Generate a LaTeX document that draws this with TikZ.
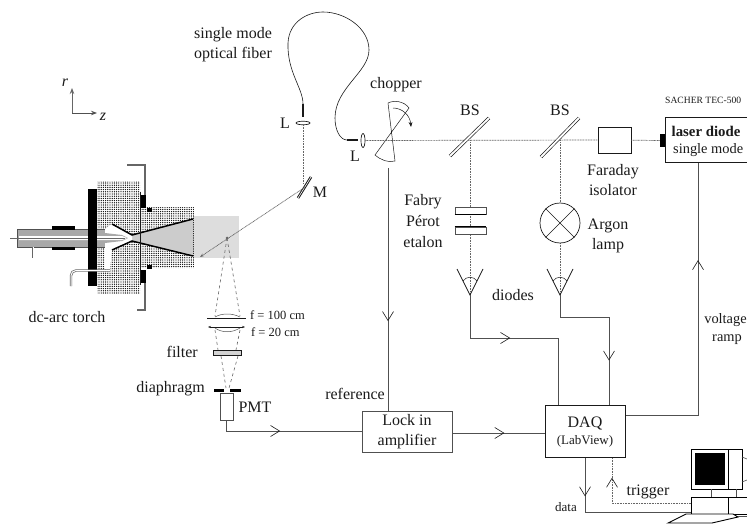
\documentclass[tikz,border=0pt]{standalone}
\usepackage{fontspec}
\setmainfont{Liberation Serif}
\usepackage{tikz}
\usetikzlibrary{arrows.meta,decorations.markings,shapes.geometric,patterns.meta}
\definecolor{cInk}{HTML}{1A1A1A}
\definecolor{cWire}{HTML}{505050}
\definecolor{cBeam}{HTML}{666666}
\definecolor{cDither}{HTML}{A8A8A8}
\definecolor{cPlume}{HTML}{DDDDDD}
\definecolor{cCone}{HTML}{CCCCCC}
\tikzset{
  lbl/.style={font=\fontsize{16}{20}\selectfont,text=cInk,inner sep=0pt,align=center},
  lblin/.style={font=\fontsize{14.4}{18}\selectfont,text=cInk,inner sep=0pt,align=center},
  lblsm/.style={font=\fontsize{13}{15}\selectfont,text=cInk,inner sep=0pt,align=center},
  devbox/.style={draw=cInk,fill=white,line width=0.9pt,inner sep=0pt,align=center},
  wire/.style={cWire,line width=0.9pt},
  beam/.style={cBeam,line width=0.7pt,dash pattern=on 1pt off 0.6pt},
  cone/.style={cBeam,line width=0.6pt,dash pattern=on 3pt off 3pt},
  vmark/.style={postaction={decorate},decoration={markings,mark=at position #1 with {\arrow[cInk,line width=0.6pt]{Straight Barb[length=9pt,width=11pt]}}}},
  vback/.style={postaction={decorate},decoration={markings,mark=at position #1 with {\arrowreversed[cInk,line width=0.6pt]{Straight Barb[length=9pt,width=11pt]}}}},
  plate/.style={draw=cInk,fill=white,line width=0.7pt},
  stipple/.style={pattern={Dots[radius=0.66pt,distance=2.2pt]},pattern color=black},
}
\begin{document}
\begin{tikzpicture}[x=1pt,y=-1pt]
  \useasboundingbox (0,0) rectangle (747,524);
  \clip (0,0) rectangle (747,524);
  % axes
  \coordinate (ax0) at (72,113);
  \coordinate (axr) at (72,88);
  \coordinate (axz) at (97,113);
  \draw[-{Stealth[length=6pt]},cBeam,line width=0.9pt] (ax0) -- (axr);
  \draw[-{Stealth[length=6pt]},cWire,line width=0.9pt] (ax0) -- (axz);
  \node[lbl,font=\fontsize{16}{20}\selectfont\itshape] (rlab) at (65,83) {r};
  \node[lbl,font=\fontsize{16}{20}\selectfont\itshape] (zlab) at (103,117) {z};
  % torch
  \fill[cPlume] (193,216) rectangle (239,258);
  \fill[stipple] (97,181) -- (140,181) -- (140,207) -- (194,207) -- (194,268) -- (140,268) -- (140,294) -- (97,294) -- cycle;
  \fill[cCone] (132,235) -- (193,219) -- (193,256) -- (132,241) -- cycle;
  \fill[white] (105,229) -- (112,224) -- (132,235) -- (132,241) -- (112,250) -- (110,269) -- (105,269) -- cycle;
  \fill[cDither] (17,229) rectangle (105,247);
  \draw[cWire,line width=0.6pt] (105,229) -- (17,229) -- (17,247) -- (105,247);
  \fill[cDither] (105,233) -- (122,235) -- (128,238) -- (122,241) -- (105,243) -- cycle;
  \fill[white] (19,236) -- (122,236) -- (127,238) -- (122,240) -- (19,240) -- cycle;
  \draw[cBeam,line width=0.7pt] (10,238) -- (125,238);
  \fill[black] (88,189) rectangle (97,286);
  \fill[black] (52,226) rectangle (75,230);
  \fill[black] (52,247) rectangle (75,250);
  \draw[black,line width=1.5pt] (112,224) -- (132,235) -- (193,219);
  \draw[black,line width=1.5pt] (112,250) -- (132,241) -- (193,256);
  \draw[cBeam,line width=2.4pt] (33,247) -- (33,258);
  \draw[white,line width=1pt] (33,247) -- (33,258);
  \draw[cBeam,line width=2.4pt,rounded corners=5pt] (110,270.5) -- (71,270.5) -- (71,286);
  \draw[white,line width=1pt,rounded corners=5pt] (110,270.5) -- (71,270.5) -- (71,286);
  \draw[cBeam,line width=1.4pt] (127,165) -- (145,165) -- (145,197);
  \draw[cBeam,line width=1.4pt] (137,310) -- (145,310) -- (145,282);
  \fill[black] (141,195) rectangle (146,208);
  \fill[black] (141,270) rectangle (146,283);
  \fill[black] (147,208) rectangle (152,212);
  \fill[black] (147,265) rectangle (152,269);
  \draw[cInk,line width=0.4pt] (140,192) -- (140,285);
  \node[lbl] (torchlab) at (67,317) {dc-arc torch};
  % fiber and collection
  \node[draw=cInk,fill=white,ellipse,line width=0.7pt,minimum width=14pt,minimum height=3.5pt,inner sep=0pt] (lensa) at (303,123) {};
  \node[draw=cInk,fill=white,ellipse,line width=0.7pt,minimum width=4pt,minimum height=14pt,inner sep=0pt] (lensb) at (363,140.5) {};
  \coordinate (fibA) at (303,117);
  \coordinate (fibB) at (303,104);
  \coordinate (fibC) at (347,140);
  \coordinate (fibD) at (358,140);
  \draw[cInk,line width=1.6pt] (fibA) -- (fibB);
  \draw[cInk,line width=1.6pt] (fibC) -- (fibD);
  \draw[cInk,line width=0.6pt] (fibB) .. controls (303,88) and (287,72) .. (288,43)
     .. controls (289,22) and (307,12) .. (323,12)
     .. controls (345,12) and (369,28) .. (369,50)
     .. controls (369,72) and (335,88) .. (335,118)
     .. controls (335,130) and (340,140) .. (fibC);
  \node[lbl] (llaba) at (285,123) {L};
  \node[lbl] (llabb) at (355,156) {L};
  \node[lbl] (fiberlab) at (233,44.5) {single mode\\optical fiber};
  \coordinate (mirA) at (298,198);
  \coordinate (mirB) at (311,177);
  \coordinate (mirC) at (304.5,187.5);
  \draw[cInk,line width=2.6pt] (mirA) -- (mirB);
  \draw[white,line width=0.6pt] (mirA) -- (mirB);
  \node[lbl] (mlab) at (320,192) {M};
  \draw[beam] (lensa) -- (303,183);
  \coordinate (spot) at (227,238);
  \coordinate (plumeend) at (200,257);
  \draw[-{Stealth[length=4pt]},beam] (mirC) -- (plumeend);
  % detection optics
  \coordinate (lensL) at (207,318);
  \coordinate (lensR) at (246,318);
  \fill[cBeam] (spot) circle (1.5pt);
  \draw[cone] (spot) -- (215,316);
  \draw[cone] (spot) -- (240,316);
  \draw[cInk,line width=0.8pt] (lensL) -- (lensR);
  \draw[cWire,line width=0.5pt] (215,317) .. controls (222,313) and (232,313) .. (240,317);
  \draw[cInk,line width=0.6pt,{Stealth[length=3pt]}-{Stealth[length=3pt]}] (208,327) -- (245,327);
  \draw[cWire,line width=0.5pt] (215,328) .. controls (222,333) and (232,333) .. (240,328);
  \draw[cone] (215,330) -- (218,350);
  \draw[cone] (240,330) -- (236,350);
  \node[plate,minimum width=28pt,minimum height=5.5pt,inner sep=0pt,fill=cDither!50] (filt) at (227,353) {};
  \draw[cone] (221,356) -- (226,388);
  \draw[cone] (238,356) -- (229,388);
  \fill[black] (214,388.5) rectangle (224,391.5);
  \fill[black] (230,388.5) rectangle (241,391.5);
  \node[lblsm,font=\fontsize{12.5}{14}\selectfont,anchor=west] (flaba) at (250,315) {f = 100 cm};
  \node[lblsm,font=\fontsize{12.5}{14}\selectfont,anchor=west] (flabb) at (251,332) {f = 20 cm};
  \node[lbl,anchor=east] (filtlab) at (198,352) {filter};
  \node[lbl,anchor=east] (diaphlab) at (205,389) {diaphragm};
  \node[devbox,draw=cWire,line width=0.6pt,minimum width=13pt,minimum height=27pt] (pmt) at (226.5,406.5) {};
  \node[lbl] (pmtlab) at (255,407) {PMT};
  % chopper
  \node[lbl] (choplab) at (396,85) {chopper};
  \coordinate (chopc) at (393,140);
  \draw[cInk,line width=0.5pt] (388,103) .. controls (394,100) and (404,101) .. (409,108) -- (375,155)
      .. controls (381,160) and (388,163) .. (395,161) -- (388,103);
  \draw[-{Stealth[length=5pt]},cInk,line width=0.5pt] (393,108) .. controls (402,108) and (410,115) .. (411,127);
  % beam path
  \node[devbox,minimum width=83pt,minimum height=45pt,anchor=north west] (laser) at (664.5,117) {};
  \node[lblin,anchor=west,font=\fontsize{14.8}{18}\selectfont\bfseries] (laserlab) at (671.5,131) {laser diode};
  \node[lblin,anchor=west] (singlelab) at (673,150) {single mode};
  \node[lblsm,font=\fontsize{9.6}{12}\selectfont,anchor=west] (sacher) at (665,100) {SACHER TEC-500};
  \fill[black] (660,134) rectangle (665,147);
  \node[devbox,minimum width=33pt,minimum height=26pt] (faraday) at (614.5,140) {};
  \node[lbl] (faradaylab) at (613,180) {Faraday\\isolator};
  \coordinate (bsa) at (470,140.5);
  \coordinate (bsb) at (560,140.5);
  \draw[beam] (lensb) -- (faraday);
  \draw[beam] (faraday) -- (660,140.5);
  \node[lbl] (bslaba) at (470,110) {BS};
  \node[lbl] (bslabb) at (560,110) {BS};
  \draw[cInk,line width=3.2pt] (450,156) -- (489,118);
  \draw[white,line width=1.9pt] (450,156) -- (489,118);
  \draw[cInk,line width=3.2pt] (541,157) -- (579,118);
  \draw[white,line width=1.9pt] (541,157) -- (579,118);
  % etalon
  \coordinate (diodea) at (470,295);
  \coordinate (diodeb) at (560,295);
  \draw[beam] (bsa) -- (diodea);
  \draw[beam] (bsb) -- (diodeb);
  \node[draw=cWire,fill=white,line width=0.6pt,minimum width=31pt,minimum height=7pt,inner sep=0pt] (etalA) at (470.5,210.5) {};
  \node[draw=cWire,fill=white,line width=0.6pt,minimum width=31pt,minimum height=7pt,inner sep=0pt] (etalB) at (470.5,230.5) {};
  \draw[black,line width=1.2pt] (etalA.south west) -- (etalA.south east);
  \draw[black,line width=1.2pt] (etalB.north west) -- (etalB.north east);
  \node[lbl] (fabrylab) at (423,221.5) {Fabry\\[1pt]Pérot\\[1pt]etalon};
  % lamp
  \node[draw=cInk,fill=white,circle,line width=0.7pt,minimum size=40pt,inner sep=0pt] (lamp) at (560,223) {};
  \draw[cInk,line width=0.5pt] (lamp.45) -- (lamp.225);
  \draw[cInk,line width=0.5pt] (lamp.135) -- (lamp.315);
  \node[lbl] (argonlab) at (608,236) {Argon\\lamp};
  % diodes
  \foreach \dx/\nm in {470/a,560/b}{
    \draw[cInk,line width=0.7pt] (\dx-13,269) -- (\dx,295) -- (\dx+13,269);
    \draw[cInk,line width=0.5pt] (\dx-7,281) .. controls (\dx-4,276) and (\dx+4,276) .. (\dx+7,281);
  }
  \node[lbl] (diodeslab) at (513,295) {diodes};
  % electronics
  \node[devbox,draw=cInk,minimum width=80pt,minimum height=52pt,anchor=north west] (daq) at (545,405) {};
  \node[lbl] (daqlab) at (585,423) {DAQ};
  \node[lblsm] (labviewlab) at (585,441) {(LabView)};
  \node[devbox,draw=cWire,line width=0.6pt,minimum width=90pt,minimum height=41pt,anchor=north west] (lockin) at (362,411) {};
  \node[lbl] (lockinlab) at (407,432) {Lock in\\amplifier};
  \coordinate (topa) at (558,405);
  \coordinate (topb) at (609,405);
  \draw[wire,vmark=0.42] (diodea) -- (470,338) -- (558,338) -- (topa);
  \draw[wire,vmark=0.72] (diodeb) -- (560,317) -- (609,317) -- (topb);
  \coordinate (chopfoot) at (388,168);
  \draw[wire,vmark=0.63] (chopfoot) -- (lockin.north -| chopfoot);
  \node[lbl,anchor=east] (reflab) at (385,394) {reference};
  \draw[wire,vmark=0.44] (pmt.south) -- (226.5,431) -- (lockin.west |- 0,431);
  \draw[wire,vmark=0.56] (lockin.east |- 0,433) -- (daq.west |- 0,433);
  \draw[wire,vmark=0.70] (daq.east |- 0,415) -- (698,415) -- (laser.south -| 698,0);
  \node[lblin] (voltlab) at (725.5,320) {voltage};
  \node[lblin] (ramplab) at (727,340) {ramp};
  % computer
  \node[draw=black,fill=white,line width=1pt,minimum width=51pt,minimum height=40pt,anchor=north west,inner sep=0pt] (monitor) at (691,449) {};
  \fill[black] (695,453) rectangle (725,485);
  \draw[black,line width=0.8pt] (728,449) -- (728,489);
  \draw[cWire,line width=0.6pt] (711,489) -- (711,497);
  \draw[cWire,line width=0.6pt] (736,489) -- (736,497);
  \draw[cWire,line width=0.6pt] (742,457) -- (747,459);
  \draw[cWire,line width=0.6pt] (742,482) -- (747,480);
  \node[draw=black,fill=white,line width=1pt,minimum width=60pt,minimum height=17pt,anchor=north west,inner sep=0pt] (pcbase) at (691,497) {};
  \draw[black,line width=0.9pt] (728,497) -- (728,514);
  \draw[black,line width=0.9pt,fill=white] (668,523) -- (686,514) -- (733,514) -- (738,517) -- (712,523) -- cycle;
  \draw[cWire,line width=0.8pt] (738,516) -- (747,516);
  \coordinate (pcdata) at (691,512);
  \coordinate (pctrig) at (691,503);
  \draw[wire,vmark=0.24] (daq.south -| 585,0) -- (585,512) -- (pcdata);
  \draw[beam,line width=0.9pt,vback=0.16] (daq.south -| 612,0) -- (612,503) -- (pctrig);
  \node[lbl] (triglab) at (648,492) {trigger};
  \node[lblsm] (datalab) at (566,507) {data};
\end{tikzpicture}
\end{document}
